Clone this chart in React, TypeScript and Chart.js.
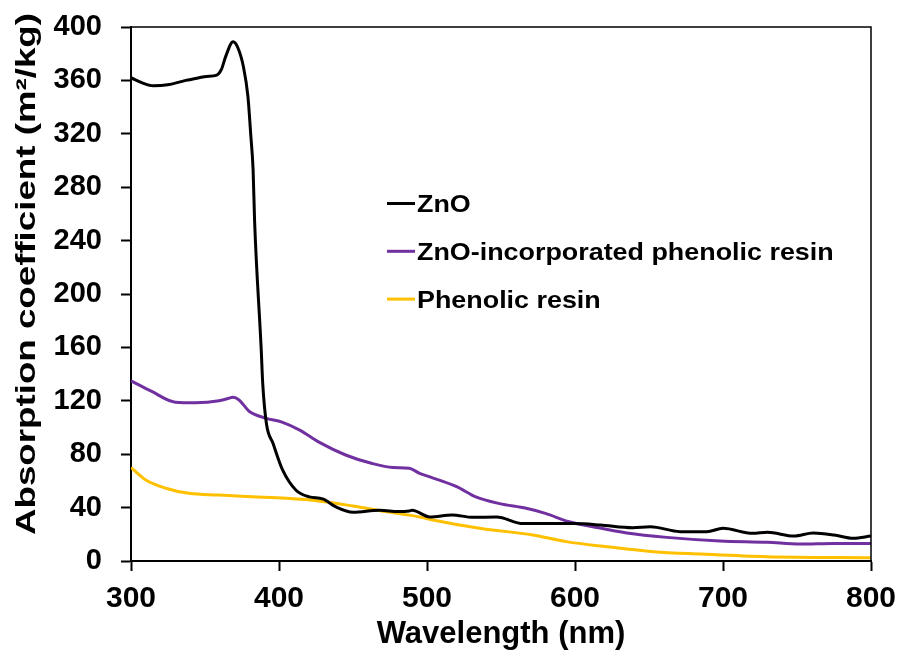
import React, { useEffect, useRef } from "react";
import { Chart, registerables } from "chart.js";

Chart.register(...registerables);

const FONT = "'Liberation Sans', Arial, Helvetica, sans-serif";

// ---- data ----
const znoWavelength = [300, 308, 315, 326, 337, 346, 351, 358, 361, 364, 369, 372, 376, 379, 381, 382.5, 383.5, 388, 389, 391.5, 396, 402.5, 411.5, 420.5, 429.5, 438.5, 450, 468, 481, 488, 490, 502, 517, 531, 547, 565, 583, 599, 617, 639, 651, 671, 689, 700, 720, 730, 748, 761, 775, 788, 800];
const znoAbsorption = [362, 358, 356, 357, 360, 362, 363, 364, 368, 378, 389, 385, 370, 348, 318, 293, 255, 158, 133, 103, 88, 68, 53, 48, 46.5, 40.5, 36.5, 38, 37, 37.5, 38, 33, 34.5, 32.7, 33, 28, 28, 28, 27, 25, 25.7, 22, 22, 24.5, 20.7, 21.5, 18.7, 21, 19.5, 17, 18.7];

const compositeWavelength = [300, 314, 330, 343.5, 359.5, 365, 369, 373, 380, 391, 402, 414, 427, 445, 463, 477, 488, 495, 502, 520, 533, 549, 567, 580, 596, 612, 635, 662, 698, 730, 752, 775, 800];
const compositeAbsorption = [135, 127, 119, 118.6, 120, 121.5, 122.6, 120.6, 112, 107, 104, 98, 89, 79.4, 73, 70, 69.4, 65.7, 63, 55.7, 48, 43, 39.5, 35.7, 29.4, 25.7, 21, 17.7, 15, 14, 12.7, 13.2, 13.2];

const resinWavelength = [300, 310, 323.5, 339, 359.5, 382, 404.7, 427, 450, 472, 495, 504, 535.5, 571.5, 594, 621.5, 653, 685, 729.5, 800];
const resinAbsorption = [70, 60.7, 54.5, 50.7, 49.4, 48.2, 47, 45, 41.2, 37, 33, 30.7, 24.5, 19.5, 14.5, 10.7, 7, 5.2, 3.2, 2.5];

const seriesNames = ["ZnO", "ZnO-incorporated phenolic resin", "Phenolic resin"];
const seriesColors = ["#000000", "#7030A0", "#FFC000"];

const xTickValues = [300, 400, 500, 600, 700, 800];
const yTickValues = [0, 40, 80, 120, 160, 200, 240, 280, 320, 360, 400];

const xTitle = "Wavelength (nm)";
const yTitle = "Absorption coefficient (m²/kg)";

function toPoints(xs: number[], ys: number[]) {
  return xs.map((x, i) => ({ x, y: ys[i] }));
}

const decorPlugin = {
  id: "decor",
  afterDraw(chart: any) {
    const { ctx, chartArea } = chart;
    ctx.save();
    // frame: top and right
    ctx.strokeStyle = "#000";
    ctx.lineWidth = 1.5;
    ctx.beginPath();
    ctx.moveTo(chartArea.left, chartArea.top);
    ctx.lineTo(chartArea.right, chartArea.top);
    ctx.lineTo(chartArea.right, chartArea.bottom);
    ctx.stroke();

    // y axis title (stretched along its length like the reference)
    ctx.fillStyle = "#000";
    ctx.font = `bold 28px ${FONT}`;
    ctx.textAlign = "center";
    ctx.textBaseline = "alphabetic";
    const w = ctx.measureText(yTitle).width;
    const stretch = 522 / w;
    ctx.translate(35, 274);
    ctx.rotate(-Math.PI / 2);
    ctx.scale(stretch, 1);
    ctx.fillText(yTitle, 0, 0);
    ctx.restore();

    // legend
    ctx.save();
    const lx = chartArea.left + 256;
    const ly0 = chartArea.top + 176.5;
    seriesNames.forEach((name, i) => {
      const y = ly0 + i * 47.8;
      ctx.strokeStyle = seriesColors[i];
      ctx.lineWidth = 3;
      ctx.beginPath();
      ctx.moveTo(lx, y);
      ctx.lineTo(lx + 28, y);
      ctx.stroke();
      ctx.save();
      ctx.fillStyle = "#000";
      ctx.font = `bold 24px ${FONT}`;
      ctx.textAlign = "left";
      ctx.textBaseline = "alphabetic";
      ctx.translate(lx + 30, y + 8.7);
      ctx.scale(1.12, 1);
      ctx.fillText(name, 0, 0);
      ctx.restore();
    });
    ctx.restore();
  },
};

export default function App() {
  const canvasRef = useRef<HTMLCanvasElement | null>(null);

  useEffect(() => {
    const canvas = canvasRef.current;
    if (!canvas) return;
    const xs = [znoWavelength, compositeWavelength, resinWavelength];
    const ys = [znoAbsorption, compositeAbsorption, resinAbsorption];
    const chart = new Chart(canvas, {
      type: "line",
      data: {
        datasets: seriesNames.map((name, i) => ({
          label: name,
          data: toPoints(xs[i], ys[i]),
          borderColor: seriesColors[i],
          backgroundColor: seriesColors[i],
          borderWidth: 3,
          pointRadius: 0,
          cubicInterpolationMode: "monotone" as const,
          fill: false,
        })),
      },
      options: {
        responsive: false,
        animation: false,
        layout: { padding: { left: 0, top: 27, right: 30, bottom: 0 } },
        plugins: {
          legend: { display: false },
          tooltip: { enabled: false },
          title: { display: false },
        },
        scales: {
          x: {
            type: "linear",
            min: 300,
            max: 800,
            afterBuildTicks: (scale: any) => {
              scale.ticks = xTickValues.map((v) => ({ value: v }));
            },
            afterFit: (scale: any) => {
              scale.height = 94;
              scale.paddingLeft = 0;
              scale.paddingRight = 0;
            },
            grid: {
              drawOnChartArea: false,
              drawTicks: true,
              tickLength: 10,
              tickWidth: 2,
              tickColor: "#000",
              color: "#000",
            },
            border: { display: true, color: "#000", width: 2 },
            ticks: {
              color: "#000",
              font: { family: FONT, size: 30, weight: "bold" },
              padding: 10,
              maxRotation: 0,
            },
            title: {
              display: true,
              text: xTitle,
              color: "#000",
              font: { family: FONT, size: 31, weight: "bold" },
              padding: { top: 0, bottom: 2 },
            },
          },
          y: {
            type: "linear",
            min: 0,
            max: 400,
            afterBuildTicks: (scale: any) => {
              scale.ticks = yTickValues.map((v) => ({ value: v }));
            },
            afterFit: (scale: any) => {
              scale.width = 131;
              scale.paddingTop = 0;
              scale.paddingBottom = 0;
            },
            grid: {
              drawOnChartArea: false,
              drawTicks: true,
              tickLength: 10,
              tickWidth: 2,
              tickColor: "#000",
              color: "#000",
            },
            border: { display: true, color: "#000", width: 2 },
            ticks: {
              color: "#000",
              font: { family: FONT, size: 29, weight: "bold" },
              padding: 19,
            },
            title: { display: false, text: yTitle },
          },
        },
      },
      plugins: [decorPlugin],
    });
    return () => chart.destroy();
  }, []);

  return (
    <div style={{ position: "absolute", left: 0, top: 0, width: 901, height: 655, background: "#fff" }}>
      <canvas ref={canvasRef} width={901} height={655} style={{ width: 901, height: 655, display: "block" }} />
    </div>
  );
}
